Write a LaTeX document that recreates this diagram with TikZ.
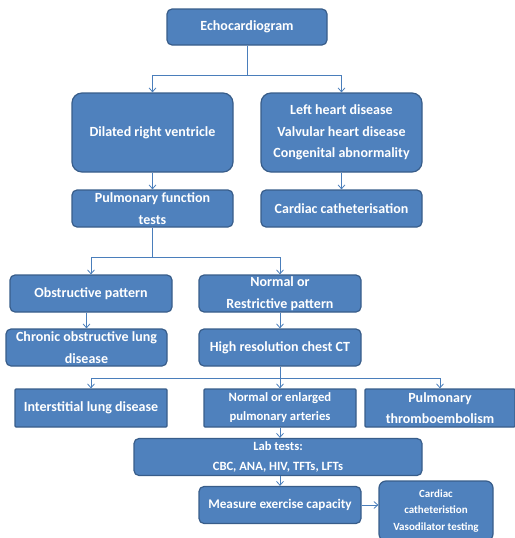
\documentclass[tikz,border=0pt]{standalone}
\usepackage{fontspec}
\setmainfont{Carlito}
\usetikzlibrary{arrows.meta, calc}
\definecolor{boxfill}{HTML}{4F81BD}
\definecolor{boxline}{HTML}{385D8A}
\definecolor{conline}{HTML}{4A7EBB}
\tikzset{
  box/.style={draw=boxline, fill=boxfill, line width=1.2pt, rounded corners=5pt, text=white,
    align=center, inner sep=0pt, font=\bfseries\fontsize{14}{21.5}\selectfont},
  bigbox/.style={box, rounded corners=10pt},
  sqbox/.style={box, rounded corners=1pt},
  con/.style={draw=conline, line width=0.8pt},
  tra/.style={con, -{Straight Barb[length=4pt, width=7pt]}}
}

\begin{document}
\begin{tikzpicture}[x=1pt, y=-1pt]
	\useasboundingbox (0,0) rectangle (514,538);
	% first row
	\node[box, minimum width=160pt, minimum height=36pt] (echo) at (247,27) {Echocardiogram};
	\node[bigbox, minimum width=161pt, minimum height=79pt] (drv) at (152.5,132.5) {Dilated right ventricle};
	\node[bigbox, minimum width=161pt, minimum height=79pt] (lhd) at (341.5,132.5) {Left heart disease\\Valvular heart disease\\Congenital abnormality};
	\coordinate (j1) at (247,75);
	\draw[con] (echo) -- (j1);
	\draw[tra] (j1) -| (drv);
	\draw[tra] (j1) -| (lhd);
	% second row
	\node[box, minimum width=161pt, minimum height=37pt] (pft) at (152.5,208.5) {Pulmonary function\\tests};
	\node[box, minimum width=161pt, minimum height=37pt] (cath) at (341.5,208.5) {Cardiac catheterisation};
	\draw[tra] (drv) -- (pft);
	\draw[tra] (lhd) -- (cath);
	% spirometry
	\node[box, minimum width=162pt, minimum height=37pt] (obs) at (91,293.5) {Obstructive pattern};
	\node[box, minimum width=162pt, minimum height=37pt] (nrp) at (280,293.5) {Normal or\\Restrictive pattern};
	\coordinate (j2) at (152.5,257);
	\draw[con] (pft) -- (j2);
	\draw[tra] (j2) -| (obs);
	\draw[tra] (j2) -| (nrp);
	\node[box, minimum width=161pt, minimum height=37pt] (copd) at (86.5,347.5) {Chronic obstructive lung\\disease};
	\node[box, minimum width=162pt, minimum height=37pt] (hrct) at (280,347.5) {High resolution chest CT};
	\draw[tra] (copd.north |- obs.south) -- (copd.north);
	\draw[tra] (nrp) -- (hrct);
	% CT findings
	\node[sqbox, minimum width=152pt, minimum height=38pt] (ild) at (91,408) {Interstitial lung disease};
	\node[sqbox, minimum width=152pt, minimum height=38pt, font=\bfseries\fontsize{12.7}{19}\selectfont] (npa) at (280,408) {Normal or enlarged\\pulmonary arteries};
	\node[sqbox, minimum width=150pt, minimum height=38pt] (pte) at (440,408) {Pulmonary\\thromboembolism};
	\coordinate (j3) at (280,378);
	\draw[con] (hrct) -- (j3);
	\draw[tra] (j3) -| (ild);
	\draw[tra] (j3) -| (npa);
	\draw[tra] (j3) -| (pte);
	% work-up
	\node[box, minimum width=288pt, minimum height=37pt, font=\bfseries\fontsize{12.6}{20}\selectfont] (lab) at (278,457) {Lab tests:\\CBC, ANA, HIV, TFTs, LFTs};
	\node[box, minimum width=162pt, minimum height=37pt, font=\bfseries\fontsize{13.2}{20}\selectfont] (mec) at (280,505) {Measure exercise capacity};
	\node[box, rounded corners=7pt, minimum width=114pt, minimum height=60pt, font=\bfseries\fontsize{11}{16.7}\selectfont] (cvt) at (436,511) {Cardiac\\catheteristion\\Vasodilator testing};
	\draw[tra] (npa) -- (npa |- lab.north);
	\draw[tra] (mec.north |- lab.south) -- (mec.north);
	\draw[tra] (mec.east) -- (mec.east -| cvt.west);
\end{tikzpicture}
\end{document}
